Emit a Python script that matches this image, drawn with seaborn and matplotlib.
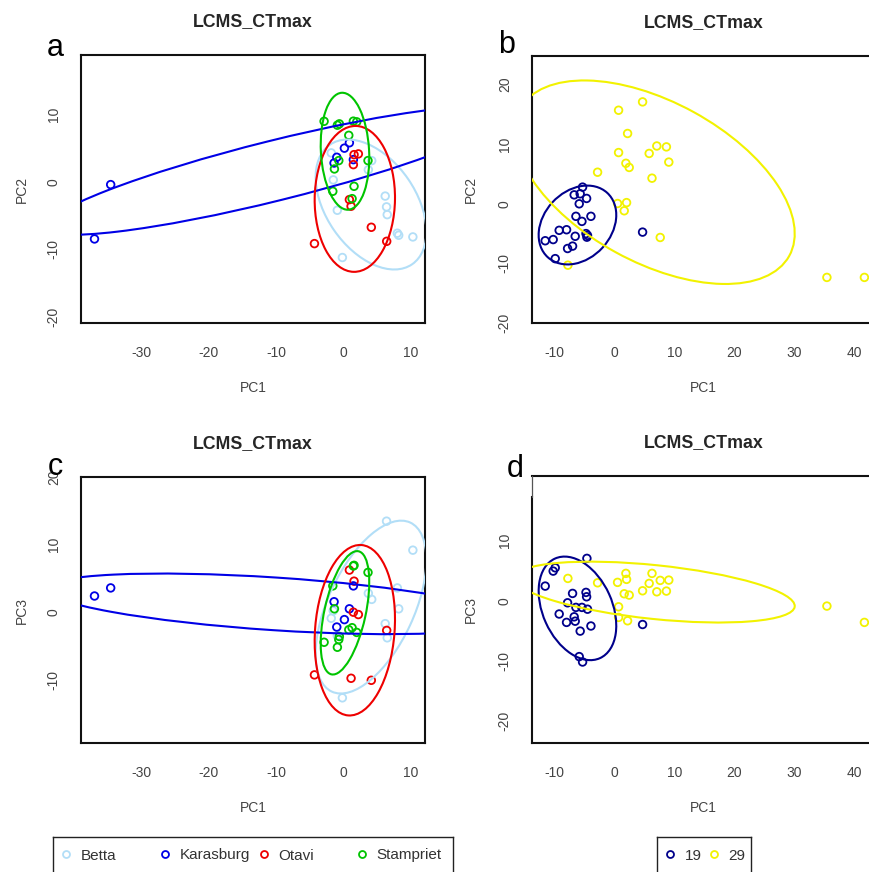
import numpy as np
import pandas as pd
import seaborn as sns
import matplotlib
matplotlib.use("Agg")
import matplotlib.pyplot as plt
from matplotlib.patches import Ellipse
from matplotlib.lines import Line2D
from matplotlib.legend import Legend

# ---- PCA scores by collection site (PC1 / PC2 / PC3) ----
betta_pc1 = [-1.8, -1.5, -0.9, -0.15, 3.7, 4.2, 6.2, 6.4, 6.5, 8.0, 8.2, 10.3]
betta_pc2 = [4.3, 0.3, -4.2, -11.2, 1.8, 3.15, -2.1, -3.7, -4.85, -7.6, -7.9, -8.15]
betta_pc3 = [-0.9, 0.2, -3.5, -12.7, 2.8, 1.9, -1.7, 13.5, -3.8, 3.6, 0.5, 9.2]

karasburg_pc1 = [-36.9, -34.5, -1.38, -0.98, 0.15, 0.89, 1.48]
karasburg_pc2 = [-8.45, -0.4, 2.8, 3.65, 5.0, 5.8, 3.3]
karasburg_pc3 = [2.4, 3.6, 1.55, -2.2, -1.1, 0.5, 3.9]

otavi_pc1 = [1.58, 2.22, 1.48, 0.89, 1.14, 4.14, 6.42, -4.29]
otavi_pc2 = [4.04, 4.15, 2.56, -2.62, -3.6, -6.72, -8.8, -9.14]
otavi_pc3 = [4.6, -0.35, 0.0, 6.25, -9.8, -10.1, -2.7, -9.3]

stampriet_pc1 = [-2.86, -0.89, -0.6, 1.48, 1.98, 0.8, -0.68, -1.33, 3.65, 1.58, -1.57, 1.29]
stampriet_pc2 = [8.98, 8.4, 8.6, 9.0, 8.9, 6.9, 3.16, 1.92, 3.16, -0.65, -1.39, -2.48]
stampriet_pc3 = [-4.46, -5.2, -3.6, 6.85, -3.0, -2.6, -4.05, 0.5, 5.9, 6.95, 3.9, -2.3]

# ---- PCA scores by rearing temperature ----
t19_pc1 = [-5.27, -6.67, -5.67, -4.6, -5.83, -6.38, -3.88, -5.38, -9.17, -7.94,
           -6.5, -4.7, -4.55, -10.17, -11.5, -6.94, -7.77, -9.83, 4.73, -4.45]
t19_pc2 = [2.8, 1.5, 1.68, 0.9, 0.0, -2.1, -2.1, -2.95, -4.45, -4.35,
           -5.45, -5.0, -5.6, -6.0, -6.2, -7.1, -7.5, -9.2, -4.75, -5.3]
t19_pc3 = [-10.2, -2.67, -5.05, 0.67, -9.3, -1.1, -4.2, -1.1, -2.2, -3.6,
           -3.4, 1.4, 7.07, 4.95, 2.45, 1.23, -0.33, 5.5, -3.95, -1.4]

t29_pc1 = [4.73, 0.73, 2.23, 7.1, 8.7, 0.73, 5.83, 9.1, 1.95, 2.5,
           -2.77, 6.3, 0.56, 2.06, 1.67, 7.67, -7.72, 35.45, 41.7]
t29_pc2 = [17.1, 15.7, 11.8, 9.7, 9.55, 8.6, 8.45, 7.0, 6.8, 6.1,
           5.3, 4.3, 0.05, 0.2, -1.17, -5.65, -10.3, -12.35, -12.35]
t29_pc3 = [1.67, -1.0, -3.33, 1.5, 1.62, -2.77, 2.9, 3.45, 4.57, 0.95,
           3.0, 4.57, 3.07, 3.57, 1.17, 3.4, 3.73, -0.88, -3.6]

site_order = ["Betta", "Karasburg", "Otavi", "Stampriet"]
site_colors = ["#B2DEF7", "#0000E6", "#EE0000", "#00C400"]
temp_order = ["19", "29"]
temp_colors = ["#00008B", "#F2F200"]

ellipse_level = 0.85

sites = pd.concat([
    pd.DataFrame({"group": name, "PC1": p1, "PC2": p2, "PC3": p3})
    for name, p1, p2, p3 in [
        ("Betta", betta_pc1, betta_pc2, betta_pc3),
        ("Karasburg", karasburg_pc1, karasburg_pc2, karasburg_pc3),
        ("Otavi", otavi_pc1, otavi_pc2, otavi_pc3),
        ("Stampriet", stampriet_pc1, stampriet_pc2, stampriet_pc3),
    ]
], ignore_index=True)

temps = pd.concat([
    pd.DataFrame({"group": name, "PC1": p1, "PC2": p2, "PC3": p3})
    for name, p1, p2, p3 in [
        ("19", t19_pc1, t19_pc2, t19_pc3),
        ("29", t29_pc1, t29_pc2, t29_pc3),
    ]
], ignore_index=True)

sns.set_style("white")
plt.rcParams["font.family"] = ["Liberation Sans", "DejaVu Sans"]
plt.rcParams["axes.unicode_minus"] = False

W, H = 869, 872
fig = plt.figure(figsize=(W / 100, H / 100), dpi=100)


def px_axes(left, top, right, bottom):
    return fig.add_axes([left / W, 1 - bottom / H, (right - left) / W, (bottom - top) / H])


def confidence_ellipse(ax, x, y, color):
    pts = np.column_stack([x, y])
    mu = pts.mean(axis=0)
    cov = np.cov(pts, rowvar=False)
    vals, vecs = np.linalg.eigh(cov)
    r = np.sqrt(-2.0 * np.log(1.0 - ellipse_level))
    angle = np.degrees(np.arctan2(vecs[1, -1], vecs[0, -1]))
    ax.add_patch(Ellipse(mu, 2 * r * np.sqrt(vals[-1]), 2 * r * np.sqrt(vals[0]),
                         angle=angle, fill=False, ec=color, lw=1.5, zorder=3))


def panel(rect, df, ycol, order, colors, xlim, ylim, xticks, yticks, ylabel_x):
    ax = px_axes(*rect)
    sns.scatterplot(data=df, x="PC1", y=ycol, hue="group", hue_order=order,
                    palette=colors, s=30, marker="o", legend=False, ax=ax, zorder=2)
    coll = ax.collections[-1]
    coll.set_edgecolors(coll.get_facecolors())
    coll.set_facecolors("none")
    coll.set_linewidth(1.3)
    for name, col in zip(order, colors):
        sub = df[df["group"] == name]
        confidence_ellipse(ax, sub["PC1"].to_numpy(), sub[ycol].to_numpy(), col)
    ax.set_xlim(*xlim)
    ax.set_ylim(*ylim)
    ax.set_xticks(xticks)
    ax.set_yticks(yticks)
    ax.tick_params(axis="both", direction="out", length=5.5, width=1.2,
                   colors="#222222", labelcolor="#444444", labelsize=10)
    ax.tick_params(axis="x", pad=11)
    ax.tick_params(axis="y", pad=9, labelrotation=90)
    for lab in ax.get_yticklabels():
        lab.set_va("center")
    for sp in ax.spines.values():
        sp.set_visible(True)
        sp.set_linewidth(1.5)
        sp.set_color("#111111")
    ax.set_title("LCMS_CTmax", fontsize=12.8, fontweight="bold", pad=21)
    ax.set_xlabel("PC1", fontsize=10, color="#444444")
    ax.set_ylabel(ycol, fontsize=10, color="#444444")
    ax.xaxis.label.set_va("center")
    ax.yaxis.label.set_va("center")
    ax.xaxis.set_label_coords(0.5, -65 / (rect[3] - rect[1]))
    ax.yaxis.set_label_coords(ylabel_x, 0.5)
    return ax


panel((81, 55, 425, 323), sites, "PC2", site_order, site_colors,
      (-38.9, 12.1), (-20.9, 18.8), [-30, -20, -10, 0, 10], [-20, -10, 0, 10],
      (22 - 81) / 344)
panel((532, 56, 874.6, 323), temps, "PC2", temp_order, temp_colors,
      (-13.7, 43.4), (-19.9, 24.8), [-10, 0, 10, 20, 30, 40], [-20, -10, 0, 10, 20],
      (471 - 532) / 342.6)
panel((81, 477, 425, 743), sites, "PC3", site_order, site_colors,
      (-38.9, 12.1), (-19.4, 20.05), [-30, -20, -10, 0, 10], [-10, 0, 10, 20],
      (22 - 81) / 344)
ax_d = panel((532, 476, 874.6, 743), temps, "PC3", temp_order, temp_colors,
             (-13.7, 43.4), (-23.7, 20.8), [-10, 0, 10, 20, 30, 40], [-20, -10, 0, 10],
             (471 - 532) / 342.6)

# the heavy left axis line of panel d stops short of the top; a thin frame line closes the box
ax_d.spines["left"].set_bounds(-23.7, 17.3)
ax_d.plot([0, 0], [(743 - 497) / 267, 1], transform=ax_d.transAxes,
          lw=0.9, color="#555555", clip_on=False, zorder=5)

# panel letters
for letter, (lx, ly) in zip("abcd", [(47, 56), (498, 53), (48, 475), (507, 477)]):
    fig.text(lx / W, 1 - ly / H, letter, fontsize=22, ha="left", va="baseline",
             color="black")


def legend_strip(left, right, top, bottom, labels, colors, col_width, first_offset):
    lax = px_axes(left, top, right, bottom)
    lax.set_xticks([])
    lax.set_yticks([])
    lax.set_facecolor("none")
    for sp in lax.spines.values():
        sp.set_visible(True)
        sp.set_linewidth(1.0)
        sp.set_color("#222222")
    width = right - left
    for i, (lab, col) in enumerate(zip(labels, colors)):
        handle = Line2D([], [], ls="", marker="o", ms=5, mfc="none", mec=col, mew=1.3)
        x0 = (first_offset + i * col_width) / width
        leg = Legend(lax, [handle], [lab], loc="center left", bbox_to_anchor=(x0, 0.5),
                     frameon=False, fontsize=11, handlelength=0.8,
                     handletextpad=0.55, borderpad=0, borderaxespad=0,
                     labelcolor="#333333")
        lax.add_artist(leg)


legend_strip(53, 453, 837, 874, site_order, site_colors, 98.7, 7)
legend_strip(657, 751, 837, 874, temp_order, temp_colors, 44, 7)

fig.savefig("out.png", dpi=100)
